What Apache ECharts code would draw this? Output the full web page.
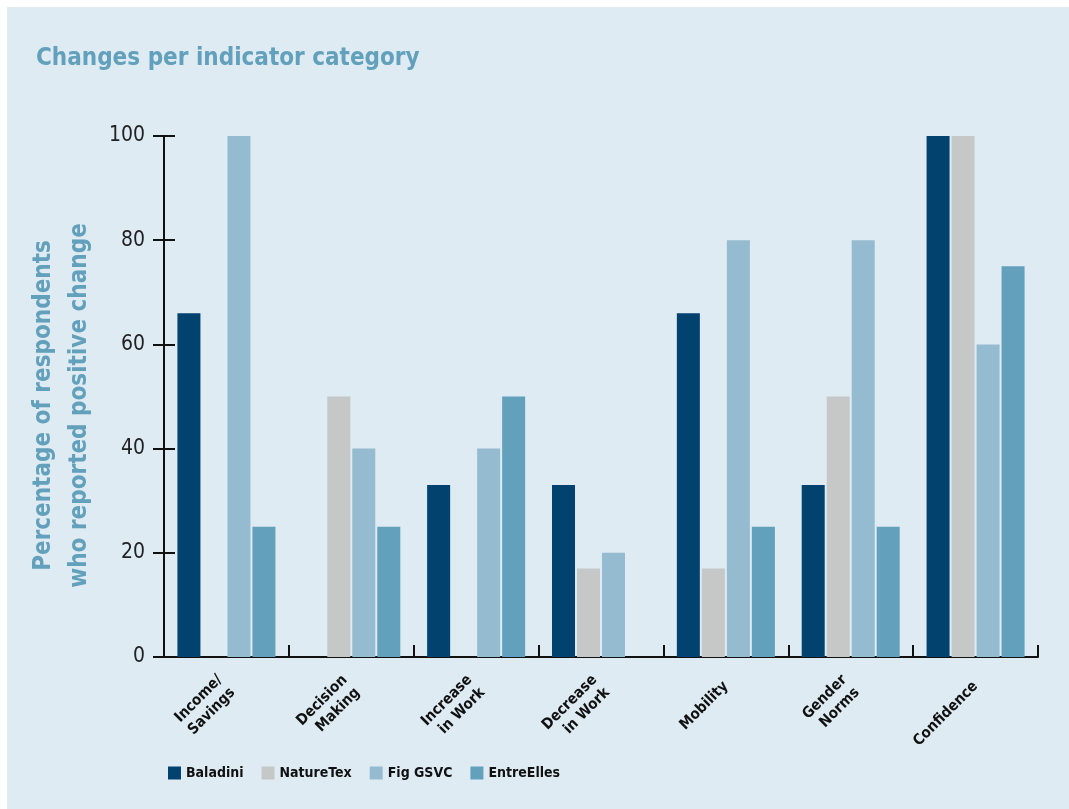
<!DOCTYPE html>
<html>
<head>
<meta charset="utf-8">
<script src="https://cdn.jsdelivr.net/npm/echarts@6/dist/echarts.min.js"></script>
<style>
	html, body { margin: 0; padding: 0; background: #ffffff; }
	#chart { position: absolute; left: 7px; top: 7px; width: 1062px; height: 802px; background: #deebf3; }
</style>
</head>
<body>
<div id="chart"></div>
<script type="text/javascript">

	var categories = ['Income/\nSavings', 'Decision\nMaking', 'Increase\nin Work', 'Decrease\nin Work', 'Mobility', 'Gender\nNorms', 'Confidence'];
	var baladini   = [66, null, 33, 33, 66, 33, 100];
	var natureTex  = [null, 50, null, 17, 17, 50, 100];
	var figGsvc    = [100, 40, 40, 20, 80, 80, 60];
	var entreElles = [25, 25, 50, null, 25, 25, 75];
	var yTicks     = [0, 20, 40, 60, 80, 100];

	var FONT = '"DejaVu Sans Condensed", "Liberation Sans Narrow", sans-serif';

	var chart = echarts.init(document.getElementById('chart'));

	function bar(name, data, color) {
		return {
			name: name,
			type: 'bar',
			data: data,
			barWidth: 23,
			barGap: '8.7%',
			itemStyle: { color: color },
			yAxisIndex: 0
		};
	}

	chart.setOption({
		animation: false,
		textStyle: { fontFamily: FONT },
		title: {
			text: 'Changes per indicator category',
			left: 29,
			top: 40,
			padding: 0,
			textStyle: { fontFamily: FONT, fontSize: 24, fontWeight: 'bold', color: '#62a0bb' }
		},
		legend: {
			left: 161,
			top: 759,
			padding: 0,
			itemWidth: 13,
			itemHeight: 13,
			itemGap: 18,
			icon: 'rect',
			textStyle: { fontFamily: FONT, fontSize: 14, fontWeight: 'bold', color: '#111' },
			data: ['Baladini', 'NatureTex', 'Fig GSVC', 'EntreElles']
		},
		grid: { left: 157, right: 31, top: 129, bottom: 152 },
		xAxis: {
			type: 'category',
			data: categories,
			axisLine: { lineStyle: { color: '#111', width: 2 } },
			axisTick: { show: true, inside: true, length: 12, alignWithLabel: false, lineStyle: { color: '#111', width: 2 } },
			axisLabel: {
				interval: 0,
				rotate: 45,
				margin: 27,
				fontFamily: FONT,
				fontSize: 15,
				fontWeight: 'bold',
				color: '#111',
				lineHeight: 18
			}
		},
		yAxis: [
			{
				type: 'value',
				min: yTicks[0],
				max: yTicks[yTicks.length - 1],
				interval: 20,
				name: 'Percentage of respondents\nwho reported positive change',
				nameLocation: 'middle',
				nameRotate: 90,
				nameGap: 64,
				nameTextStyle: { fontFamily: FONT, fontSize: 24, fontWeight: 'bold', color: '#62a0bb', lineHeight: 36, padding: [0, 18, 0, 0] },
				splitLine: { show: false },
				axisLine: { show: true, lineStyle: { color: '#111', width: 2 } },
				axisTick: { show: true, length: 11, lineStyle: { color: '#111', width: 2 } },
				axisLabel: { margin: 19, fontFamily: FONT, fontSize: 21, color: '#222' }
			},
			{
				type: 'value',
				position: 'left',
				min: yTicks[0],
				max: yTicks[yTicks.length - 1],
				interval: 20,
				splitLine: { show: false },
				axisLine: { show: false },
				axisTick: { show: true, inside: true, length: 11, lineStyle: { color: '#111', width: 2 } },
				axisLabel: { show: false }
			}
		],
		series: [
			bar('Baladini', baladini, '#01426f'),
			bar('NatureTex', natureTex, '#c6c7c7'),
			bar('Fig GSVC', figGsvc, '#94bbd0'),
			bar('EntreElles', entreElles, '#62a0bb')
		]
	});

</script>
</body>
</html>
